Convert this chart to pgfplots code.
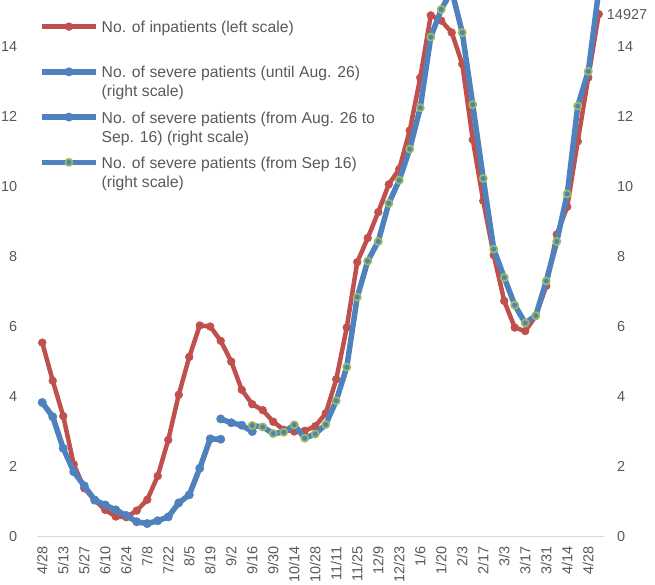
\documentclass[border=0pt]{standalone}
\usepackage{fontspec}
\setmainfont{Liberation Sans}
\usepackage{pgfplots}
\usepackage{pgfplotstable}
\pgfplotsset{compat=1.18}
\definecolor{cred}{HTML}{C0504D}
\definecolor{cblue}{HTML}{4F81BD}
\definecolor{cgreen}{HTML}{9BBB59}
\definecolor{tgray}{HTML}{595959}
\definecolor{agray}{HTML}{D9D9D9}

\pgfplotstableread{
x y
0 5.54
1 4.45
2 3.44
3 2.06
4 1.38
5 1.04
6 0.76
7 0.57
8 0.55
9 0.74
10 1.05
11 1.73
12 2.76
13 4.05
14 5.13
15 6.03
16 6.00
17 5.59
18 5.00
19 4.19
20 3.78
21 3.61
22 3.28
23 3.05
24 3.00
25 3.02
26 3.15
27 3.52
28 4.49
29 5.97
30 7.84
31 8.53
32 9.27
33 10.06
34 10.50
35 11.60
36 13.11
37 14.89
38 14.74
39 14.40
40 13.50
41 11.34
42 9.59
43 8.04
44 6.73
45 5.97
46 5.87
47 6.30
48 7.16
49 8.63
50 9.42
51 11.29
52 13.11
53 14.927
}\inpatients

\pgfplotstableread{
x y
0 3.83
1 3.42
2 2.52
3 1.85
4 1.45
5 1.04
6 0.90
7 0.76
8 0.60
9 0.42
10 0.37
11 0.45
12 0.56
13 0.96
14 1.19
15 1.95
16 2.79
17 2.78
}\sevA

\pgfplotstableread{
x y
17 3.36
18 3.25
19 3.18
20 3.00
}\sevB

\pgfplotstableread{
x y
20 3.17
21 3.13
22 2.94
23 2.98
24 3.19
25 2.81
26 2.93
27 3.20
28 3.88
29 4.84
30 6.84
31 7.87
32 8.43
33 9.52
34 10.18
35 11.07
36 12.25
37 14.27
38 15.06
39 15.60
40 14.40
41 12.34
42 10.23
43 8.21
44 7.40
45 6.61
46 6.10
47 6.31
48 7.30
49 8.43
50 9.79
51 12.30
52 13.29
53 15.60
}\sevC

\begin{document}
\begin{tikzpicture}
\path[use as bounding box] (0,0) rectangle (655bp,585bp);
\begin{axis}[
  at={(37bp,48.5bp)}, anchor=south west,
  scale only axis, width=567bp, height=536.5bp,
  xmin=-0.5, xmax=53.5, ymin=0, ymax=15.33,
  axis x line*=bottom, axis y line*=left,
  x axis line style={draw=agray, line width=1.2bp, -},
  y axis line style={draw=none},
  major tick length=0pt,
  xtick={0,2,...,52},
  xticklabels={4/28,5/13,5/27,6/10,6/24,7/8,7/22,8/5,8/19,9/2,9/16,9/30,10/14,10/28,11/11,11/25,12/9,12/23,1/6,1/20,2/3,2/17,3/3,3/17,3/31,4/14,4/28},
  xticklabel style={yshift=-10bp, rotate=90, anchor=east, inner sep=0pt, font=\fontsize{14.5}{17}\selectfont, text=tgray},
  ytick={0,2,...,14},
  yticklabel style={anchor=east, inner sep=0pt, xshift=-19.7bp, font=\fontsize{14.5}{17}\selectfont, text=tgray},
  /pgf/number format/assume math mode=true,
  clip=false,
]
\addplot[cred, line width=4.5bp, line join=round, mark=*, mark size=3.9bp,
  mark options={solid, fill=cred, draw=cred, line width=0.5bp}]
  table[x=x, y=y] {\inpatients};
\addplot[draw=none, mark=none, nodes near coords={14927},
  nodes near coords style={anchor=west, inner sep=0pt, xshift=8bp, font=\fontsize{14.5}{17}\selectfont, text=tgray}]
  coordinates {(53,14.927)};
\end{axis}
\begin{axis}[
  at={(37bp,48.5bp)}, anchor=south west,
  scale only axis, width=567bp, height=536.5bp,
  xmin=-0.5, xmax=53.5, ymin=0, ymax=15.33,
  axis x line=none, axis y line*=right,
  y axis line style={draw=none},
  xtick=\empty,
  major tick length=0pt,
  ytick={0,2,...,14},
  yticklabel style={anchor=west, inner sep=0pt, xshift=13bp, font=\fontsize{14.5}{17}\selectfont, text=tgray},
  /pgf/number format/assume math mode=true,
  clip=false,
  legend style={at={(rel axis cs:0.0035,0.9643)}, anchor=north west, draw=none, fill=none,
    inner sep=0pt, row sep=30.5bp, column sep=3bp, cells={anchor=base west},
    nodes={inner sep=0pt, text=tgray}, font=\fontsize{15.8}{19}\selectfont},
  legend image code/.code={\draw[mark repeat=2, mark phase=2, #1] plot coordinates {(0bp,6bp) (27bp,6bp) (54bp,6bp)};},
]
\addlegendimage{cred, line width=4.5bp, mark=*, mark size=3.9bp,
  mark options={solid, fill=cred, draw=cred, line width=0.5bp}}
\addlegendentry{\begin{tabular}[t]{@{}l@{}}No. of inpatients (left scale)\\ \mbox{}\end{tabular}}
\addplot[cblue, line width=5.5bp, line join=round, mark=*, mark size=4.2bp,
  mark options={solid, fill=cblue, draw=cblue, line width=0.5bp}]
  table[x=x, y=y] {\sevA};
\addlegendentry{\begin{tabular}[t]{@{}l@{}}No. of severe patients (until Aug. 26)\\(right scale)\end{tabular}}
\addplot[cblue, line width=5.5bp, line join=round, mark=*, mark size=4.2bp,
  mark options={solid, fill=cblue, draw=cblue, line width=0.5bp}]
  table[x=x, y=y] {\sevB};
\addlegendentry{\begin{tabular}[t]{@{}l@{}}No. of severe patients (from Aug. 26 to\\Sep. 16) (right scale)\end{tabular}}
\addplot[cblue, line width=5.5bp, line join=round, mark=*, mark size=3.6bp,
  mark options={solid, fill=cblue, draw=cgreen, line width=1.7bp}]
  table[x=x, y=y] {\sevC};
\addlegendentry{\begin{tabular}[t]{@{}l@{}}No. of severe patients (from Sep 16)\\(right scale)\end{tabular}}
\end{axis}
\end{tikzpicture}
\end{document}
